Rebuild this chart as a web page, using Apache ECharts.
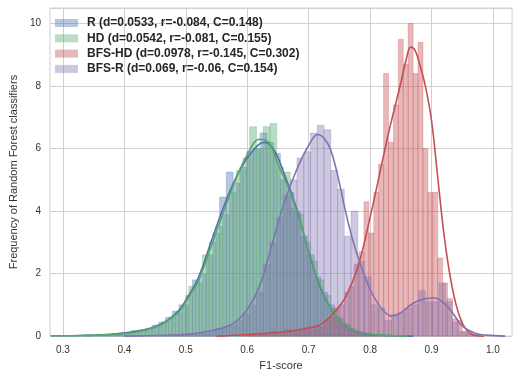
<!DOCTYPE html>
<html><head><meta charset="utf-8">
<script src="https://cdn.jsdelivr.net/npm/echarts@6/dist/echarts.min.js"></script>
<style>html,body{margin:0;padding:0;background:#fff}#c{width:523px;height:376px}</style>
</head><body><div id="c"></div>
<script>
// ---- data ----
const xTicks = [0.3, 0.4, 0.5, 0.6, 0.7, 0.8, 0.9, 1.0];
const yTicks = [0, 2, 4, 6, 8, 10];
const names = [
  'R (d=0.0533, r=-0.084, C=0.148)',
  'HD (d=0.0542, r=-0.081, C=0.155)',
  'BFS-HD (d=0.0978, r=-0.145, C=0.302)',
  'BFS-R (d=0.069, r=-0.06, C=0.154)'
];

// histogram bins: first bin start, bin width, heights (density)
const rStart = 0.335, rWidth = 0.011;
const rHist = [0.03,0.04,0.05,0.06,0.08,0.1,0.12,0.18,0.2,0.25,0.35,0.45,0.6,0.8,1.0,
  1.3,1.8,2.0,2.6,3.3,4.45,5.25,4.9,5.4,5.9,6.0,6.5,6.2,5.85,5.0,4.6,4.0,3.2,2.6,1.9,
  1.4,1.0,0.6,0.4,0.25,0.15,0.1,0.06,0.04,0.02];

const hdStart = 0.34, hdWidth = 0.011;
const hdHist = [0.03,0.03,0.05,0.05,0.08,0.1,0.12,0.15,0.2,0.25,0.35,0.45,0.6,0.75,
  1.0,1.6,1.7,2.6,3.0,3.5,3.9,4.6,5.3,5.7,6.7,6.0,6.7,6.8,5.4,5.25,4.1,3.9,3.0,2.4,
  1.8,1.3,0.9,0.55,0.35,0.2,0.12,0.08,0.05,0.03,0.02];

const bhStart = 0.598, bhWidth = 0.008;
const bhHist = [0.05,0.05,0.1,0.05,0.1,0.15,0.1,0.15,0.2,0.15,0.2,0.25,0.3,0.2,0.35,0.3,
  0.5,0.6,0.9,1.0,1.4,1.6,2.3,2.7,4.3,3.3,4.6,5.5,8.4,6.2,7.4,9.5,8.7,10.0,8.4,9.4,
  6.0,4.6,4.6,2.5,1.7,1.2,0.55,0.5,0.15,0.1,0.05];

const brStart = 0.45, brWidth = 0.011;
const brHist = [0.03,0,0.05,0.05,0.08,0.1,0.1,0.15,0.15,0.25,0.3,0.35,0.5,0.7,
  1.0,1.4,2.3,3.0,3.8,4.5,5.0,5.7,5.9,6.5,6.75,6.6,5.3,4.7,3.2,4.0,2.4,1.9,
  1.0,0.9,0.5,0.7,0.75,0.9,1.0,1.45,1.1,1.1,1.7,1.1,0.45,0.15,0.1,0.05];

// KDE curves: [x, density]
const rKde = [[0.28,0.01],[0.33,0.02],[0.38,0.06],[0.42,0.15],[0.45,0.3],[0.47,0.5],[0.49,0.85],
  [0.50,1.15],[0.52,1.85],[0.54,2.95],[0.56,4.05],[0.58,5.0],[0.60,5.7],[0.62,6.15],[0.63,6.2],
  [0.645,5.9],[0.66,5.2],[0.68,4.1],[0.70,2.7],[0.72,1.5],[0.74,0.75],[0.76,0.32],[0.78,0.13],
  [0.80,0.05],[0.83,0.02],[0.87,0]];
const hdKde = [[0.28,0.01],[0.33,0.02],[0.38,0.05],[0.42,0.13],[0.45,0.28],[0.47,0.48],[0.49,0.8],
  [0.50,1.1],[0.52,1.75],[0.54,2.8],[0.56,3.9],[0.58,4.95],[0.60,5.8],[0.62,6.3],[0.635,6.2],
  [0.65,5.5],[0.67,4.6],[0.69,3.4],[0.71,2.1],[0.73,1.1],[0.75,0.5],[0.77,0.22],[0.79,0.09],
  [0.82,0.03],[0.86,0]];
const bhKde = [[0.55,0],[0.60,0.05],[0.65,0.12],[0.70,0.25],[0.72,0.38],[0.74,0.72],[0.76,1.25],
  [0.78,2.2],[0.80,3.8],[0.82,5.6],[0.83,6.5],[0.84,7.3],[0.85,8.1],[0.86,8.95],[0.866,9.25],
  [0.873,9.15],[0.88,8.75],[0.89,8.0],[0.90,6.9],[0.91,5.1],[0.92,3.3],[0.93,1.95],[0.94,1.0],
  [0.95,0.42],[0.96,0.13],[0.97,0.03],[0.985,0]];
const brKde = [[0.40,0],[0.45,0.02],[0.50,0.05],[0.52,0.1],[0.54,0.17],[0.56,0.26],[0.58,0.44],
  [0.60,0.85],[0.62,1.6],[0.64,2.9],[0.66,4.25],[0.68,5.3],
  [0.70,6.1],[0.715,6.45],[0.73,6.2],[0.74,5.7],[0.75,4.9],[0.76,4.0],[0.77,3.2],[0.78,2.55],
  [0.80,1.5],[0.82,0.85],[0.835,0.64],[0.85,0.75],[0.87,1.05],[0.89,1.2],[0.905,1.22],
  [0.92,1.06],[0.935,0.72],[0.95,0.33],[0.97,0.1],[0.99,0.03],[1.02,0]];

// ---- styling ----
const lineColors = ['#4C72B0', '#55A868', '#C44E52', '#8172B2'];
const barColors = ['rgba(76,114,176,0.4)', 'rgba(85,168,104,0.4)', 'rgba(196,78,82,0.4)', 'rgba(129,114,178,0.4)'];
const FONT = "'Liberation Sans', Arial, sans-serif";

function histSeries(idx, start, width, heights) {
  const data = heights.map((h, i) => [start + i * width, start + (i + 1) * width, h]);
  const color = barColors[idx];
  return {
    type: 'custom', name: names[idx], data: data,
    encode: { x: [0, 1], y: 2 },
    itemStyle: { color: color },
    renderItem: function (params, api) {
      const p0 = api.coord([api.value(0), api.value(2)]);
      const p1 = api.coord([api.value(1), 0]);
      return {
        type: 'rect',
        shape: { x: p0[0], y: p0[1], width: p1[0] - p0[0], height: p1[1] - p0[1] },
        style: { fill: color, stroke: color, lineWidth: 0.7 }
      };
    }
  };
}
function kdeSeries(idx, data) {
  return {
    type: 'line', name: 'kde' + idx, data: data, showSymbol: false, symbol: 'none',
    smooth: 0.4,
    lineStyle: { color: lineColors[idx], width: 1.6 }, itemStyle: { color: lineColors[idx] }
  };
}

const chart = echarts.init(document.getElementById('c'), null, { renderer: 'canvas' });
chart.setOption({
  animation: false,
  backgroundColor: '#fff',
  grid: { left: 45, right: 11, top: 8, bottom: 39, show: true, borderColor: '#d0d0d0', borderWidth: 1 },
  legend: {
    data: names, orient: 'vertical', left: 55, top: 16, padding: 0, itemGap: 1.3,
    icon: 'rect', itemWidth: 23, itemHeight: 8,
    textStyle: { fontFamily: FONT, fontSize: 12, fontWeight: 'bold', color: '#262626', lineHeight: 14, padding: [0, 0, 0, 4] }
  },
  xAxis: {
    type: 'value', min: 0.279, max: 1.031,
    axisLine: { show: false }, axisTick: { show: false, customValues: xTicks },
    axisLabel: { customValues: xTicks, formatter: v => v.toFixed(1), fontFamily: FONT, fontSize: 10, color: '#333', margin: 9 },
    splitLine: { show: true, lineStyle: { color: '#d0d0d0', width: 1 } },
    name: 'F1-score', nameLocation: 'middle', nameGap: 20,
    nameTextStyle: { fontFamily: FONT, fontSize: 11, color: '#333' }
  },
  yAxis: {
    type: 'value', min: 0, max: 10.5, interval: 2,
    axisLine: { show: false }, axisTick: { show: false },
    axisLabel: { formatter: v => String(v), fontFamily: FONT, fontSize: 10, color: '#333', margin: 9, showMaxLabel: false },
    splitLine: { show: true, lineStyle: { color: '#d0d0d0', width: 1 } },
    name: 'Frequency of Random Forest classifiers', nameLocation: 'middle', nameGap: 27,
    nameTextStyle: { fontFamily: FONT, fontSize: 11, color: '#333' }
  },
  series: [
    histSeries(0, rStart, rWidth, rHist), kdeSeries(0, rKde),
    histSeries(1, hdStart, hdWidth, hdHist), kdeSeries(1, hdKde),
    histSeries(2, bhStart, bhWidth, bhHist), kdeSeries(2, bhKde),
    histSeries(3, brStart, brWidth, brHist), kdeSeries(3, brKde)
  ]
});
</script></body></html>
